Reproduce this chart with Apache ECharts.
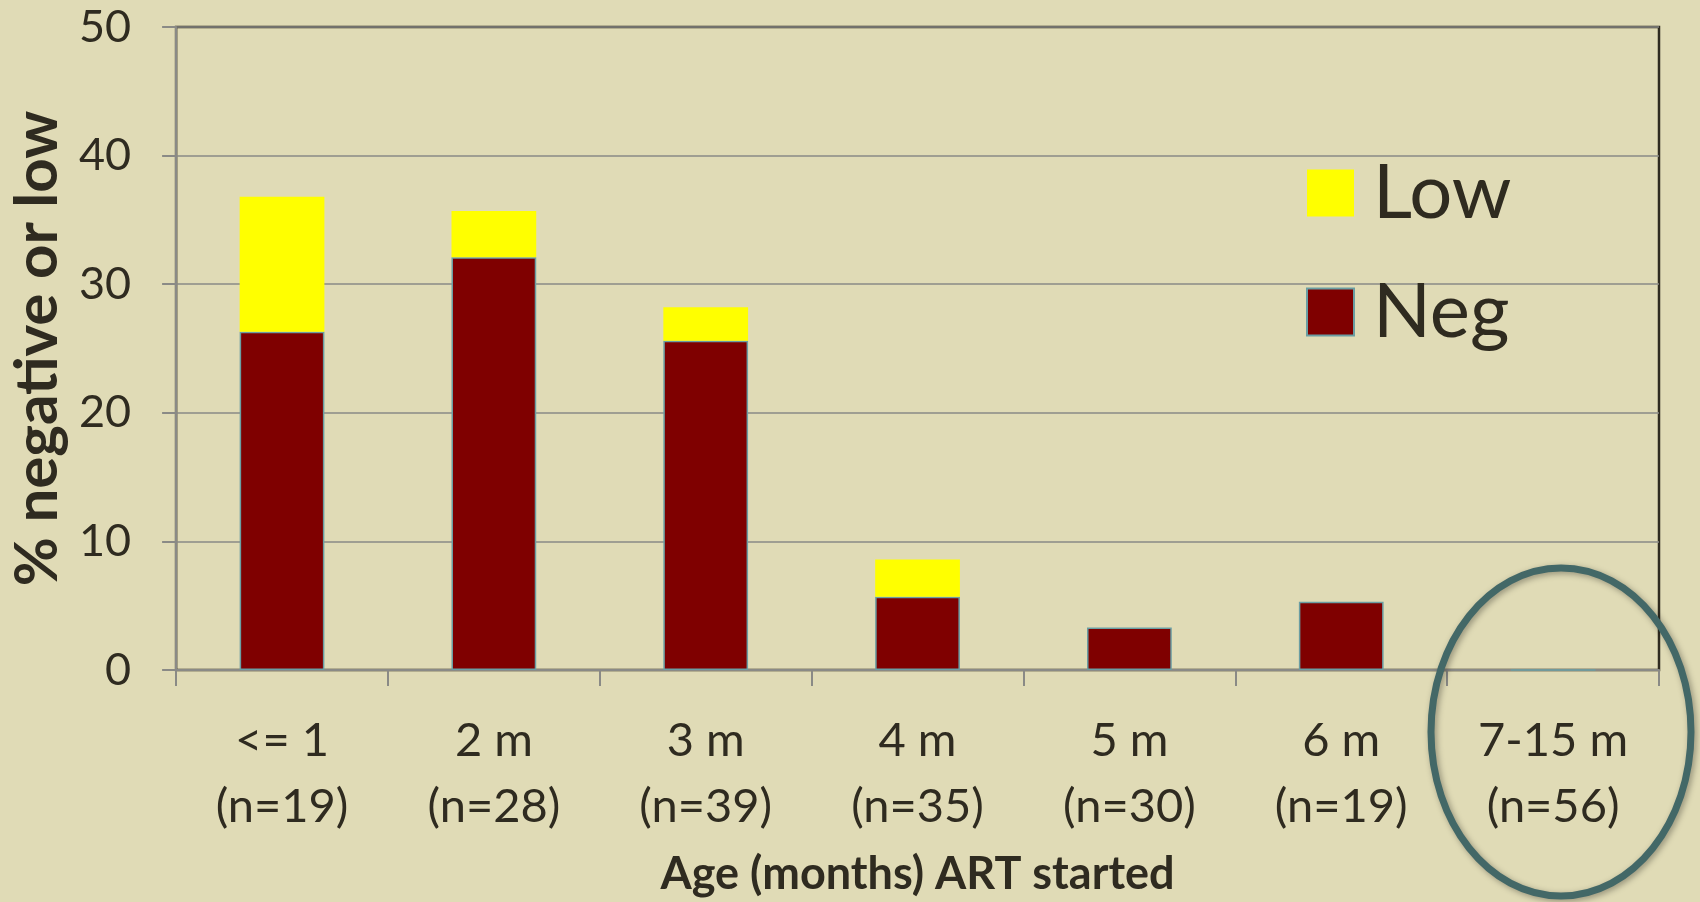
<!DOCTYPE html>
<html>
<head>
<meta charset="utf-8">
<script src="https://cdn.jsdelivr.net/npm/echarts@6/dist/echarts.min.js"></script>
<style>
  html, body { margin: 0; padding: 0; background: #e0dbb6; }
  #main { width: 1700px; height: 902px; }
</style>
</head>
<body>
<div id="main"></div>
<script>
// categories (age ART started) and group sizes
var ageLabels = ['<= 1', '2 m', '3 m', '4 m', '5 m', '6 m', '7-15 m'];
var nLabels = ['(n=19)', '(n=28)', '(n=39)', '(n=35)', '(n=30)', '(n=19)', '(n=56)'];
// % negative and % low, stacked
var negValues = [26.3, 32.1, 25.6, 5.7, 3.3, 5.3, 0];
var lowValues = [10.5, 3.6, 2.6, 2.9, 0, 0, 0];
var yTicks = [0, 10, 20, 30, 40, 50];

var textColor = '#2f2b20';
var fontName = 'Lato';

var chart = echarts.init(document.getElementById('main'), null, { renderer: 'canvas' });

var option = {
  backgroundColor: '#e0dbb6',
  animation: false,
  grid: {
    left: 174,
    right: 41,
    top: 27,
    bottom: 231,
    show: true,
    borderColor: textColor,
    borderWidth: 2.5,
    backgroundColor: 'transparent'
  },
  legend: {
    orient: 'vertical',
    left: 1301,
    top: 150,
    itemWidth: 47,
    itemHeight: 47,
    itemGap: 43,
    icon: 'rect',
    data: ['Low', 'Neg'],
    textStyle: {
      color: textColor, fontSize: 76, fontFamily: fontName,
      padding: [0, 0, 0, 14]
    }
  },
  xAxis: {
    type: 'category',
    data: ageLabels,
    name: 'Age (months) ART started',
    nameLocation: 'middle',
    nameGap: 182,
    nameTextStyle: { color: textColor, fontSize: 45, fontWeight: 'bold', fontFamily: fontName },
    axisLine: { lineStyle: { color: '#8a8a86', width: 2 } },
    axisTick: { show: true, length: 16, lineStyle: { color: '#8a8a86', width: 2 } },
    axisLabel: {
      color: textColor,
      fontSize: 47,
      fontFamily: fontName,
      lineHeight: 66,
      margin: 38,
      formatter: function (v, i) { return v + '\n' + nLabels[i]; }
    }
  },
  yAxis: {
    type: 'value',
    min: yTicks[0],
    max: yTicks[yTicks.length - 1],
    interval: 10,
    name: '% negative or low',
    nameLocation: 'middle',
    nameGap: 108,
    nameTextStyle: { color: textColor, fontSize: 60, fontWeight: 'bold', fontFamily: fontName },
    axisLine: { show: true, lineStyle: { color: '#8a8a86', width: 2 } },
    axisTick: { show: true, length: 14, lineStyle: { color: '#8a8a86', width: 2 } },
    axisLabel: { color: textColor, fontSize: 45, fontFamily: fontName, margin: 45 },
    splitLine: { lineStyle: { color: '#8a8a86', width: 1.5 } }
  },
  series: [
    {
      name: 'Neg',
      type: 'bar',
      stack: 'total',
      barWidth: '40%',
      data: negValues,
      itemStyle: { color: '#7f0000', borderColor: '#6a9ea3', borderWidth: 1.5 }
    },
    {
      name: 'Low',
      type: 'bar',
      stack: 'total',
      barWidth: '40%',
      data: lowValues,
      itemStyle: { color: '#ffff00' }
    }
  ],
  graphic: [
    {
      type: 'ellipse',
      shape: { cx: 1561, cy: 732, rx: 130, ry: 164 },
      style: {
        fill: null,
        stroke: '#436867',
        lineWidth: 7,
        shadowBlur: 6,
        shadowColor: 'rgba(0,0,0,0.35)',
        shadowOffsetX: 2,
        shadowOffsetY: 2
      },
      z: 100
    }
  ]
};

chart.setOption(option);
</script>
</body>
</html>
